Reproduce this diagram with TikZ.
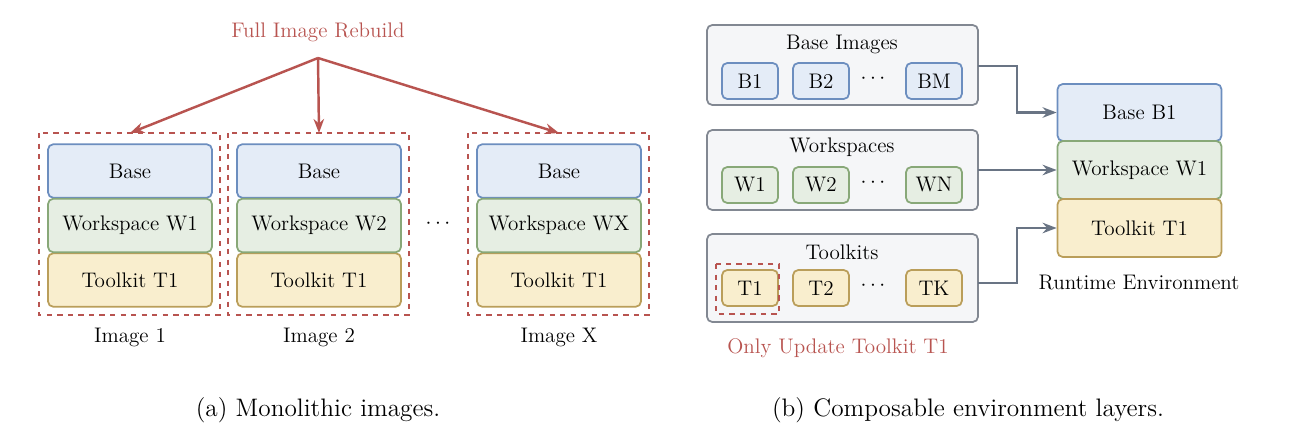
\documentclass[tikz,border=0pt]{standalone}
\usepackage{tikz}
\usetikzlibrary{positioning,arrows.meta}
\definecolor{redtxt}{RGB}{184,84,80}
\definecolor{basefill}{RGB}{228,236,247}
\definecolor{basedraw}{RGB}{108,142,191}
\definecolor{wsfill}{RGB}{230,238,227}
\definecolor{wsdraw}{RGB}{136,168,120}
\definecolor{tkfill}{RGB}{249,238,206}
\definecolor{tkdraw}{RGB}{186,158,90}
\definecolor{grpfill}{RGB}{245,246,248}
\definecolor{grpdraw}{RGB}{130,136,146}
\definecolor{arrgray}{RGB}{105,116,132}
\tikzset{
  layer/.style={draw, rounded corners=3pt, line width=1pt, minimum width=3.28cm, minimum height=1.07cm, font=\large},
  baselayer/.style={layer, fill=basefill, draw=basedraw},
  wslayer/.style={layer, fill=wsfill, draw=wsdraw},
  tklayer/.style={layer, fill=tkfill, draw=tkdraw},
  chip/.style={draw, rounded corners=3pt, line width=1pt, minimum width=1.12cm, minimum height=0.72cm, font=\large},
  group/.style={draw=grpdraw, fill=grpfill, rounded corners=3pt, line width=1pt},
  redbox/.style={draw=redtxt, dashed, line width=1.2pt},
  redarrow/.style={draw=redtxt, line width=1.4pt, -{Stealth[length=8pt]}},
  grayarrow/.style={draw=arrgray, line width=1.4pt, -{Stealth[length=8pt]}},
}
\begin{document}
\begin{tikzpicture}[x=0.02cm,y=-0.02cm]
  \useasboundingbox (0,0) rectangle (1290,430);
  % (a) monolithic images
  \node[text=redtxt, font=\large] (rebuild) at (318,32) {Full Image Rebuild};
  \coordinate (src) at (318,58);
  \foreach \n/\x/\lab in {1/130/Image 1, 2/319/Image 2, 3/559/Image X} {
    \draw[redbox] (\x-91,133) rectangle (\x+90,315);
    \node[baselayer] (base\n) at (\x,171) {Base};
    \node[tklayer] (tk\n) at (\x,280) {Toolkit T1};
    \node[anchor=north, font=\large] (img\n) at (\x,322) {\lab};
    \coordinate (top\n) at (\x,133);
  }
  \node[wslayer] (ws1) at (130,225.5) {Workspace W1};
  \node[wslayer] (ws2) at (319,225.5) {Workspace W2};
  \node[wslayer] (ws3) at (559,225.5) {Workspace WX};
  \node[font=\large] (dotsa) at (438,224) {$\cdots$};
  \draw[redarrow] (src) -- (top1);
  \draw[redarrow] (src) -- (top2);
  \draw[redarrow] (src) -- (top3);
  % (b) composable layers
  \draw[group] (707,25) rectangle (978,105);
  \draw[group] (707,130) rectangle (978,210);
  \draw[group] (707,234) rectangle (978,322);
  \node[font=\large] (tbase) at (842,44) {Base Images};
  \node[font=\large] (tws) at (842,147) {Workspaces};
  \node[font=\large] (ttk) at (842,252) {Toolkits};
  \foreach \a/\b/\c/\y/\s in {B1/B2/BM/81/baselayer, W1/W2/WN/185/wslayer, T1/T2/TK/288/tklayer} {
    \node[chip, \s, minimum width=1.12cm, minimum height=0.72cm] (c\a) at (750,\y) {\a};
    \node[chip, \s, minimum width=1.12cm, minimum height=0.72cm] (c\b) at (821,\y) {\b};
    \node[chip, \s, minimum width=1.12cm, minimum height=0.72cm] (c\c) at (934,\y) {\c};
    \node[font=\large] at (873,\y-2) {$\cdots$};
  }
  \draw[redbox] (716,264) rectangle (779,314);
  \node[text=redtxt, font=\large] (only) at (838,348) {Only Update Toolkit T1};
  \node[baselayer, minimum height=1.14cm] (rbase) at (1139.5,112.5) {Base B1};
  \node[wslayer, minimum height=1.16cm] (rws) at (1139.5,170) {Workspace W1};
  \node[tklayer, minimum height=1.16cm] (rtk) at (1139.5,228) {Toolkit T1};
  \node[font=\large] (rt) at (1139,283) {Runtime Environment};
  \draw[grayarrow] (978,66) -- (1017,66) |- (rbase.west);
  \draw[grayarrow] (978,170) -- (rws.west);
  \draw[grayarrow] (978,283) -- (1017,283) |- (rtk.west);
  % captions
  \node[font=\Large] (capa) at (318,410) {(a) Monolithic images.};
  \node[font=\Large] (capb) at (968,410) {(b) Composable environment layers.};
\end{tikzpicture}
\end{document}
